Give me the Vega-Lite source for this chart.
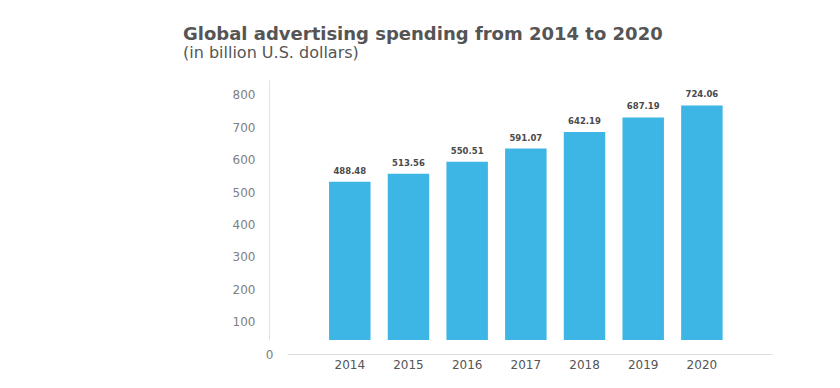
{
  "$schema": "https://vega.github.io/schema/vega-lite/v6.json",
  "width": 485,
  "height": 274,
  "autosize": {"type": "none"},
  "padding": {"left": 287, "top": 80, "right": 68, "bottom": 34},
  "background": "#ffffff",
  "title": {
    "text": "Global advertising spending from 2014 to 2020",
    "subtitle": "(in billion U.S. dollars)",
    "anchor": "start",
    "frame": "group",
    "dx": -104,
    "offset": 19,
    "font": "DejaVu Sans",
    "fontSize": 18,
    "fontWeight": "bold",
    "color": "#555555",
    "subtitleFont": "DejaVu Sans",
    "subtitleFontSize": 16,
    "subtitleColor": "#555555",
    "subtitlePadding": 1
  },
  "config": {"view": {"stroke": null}},
  "data": {
    "values": [
      {"year": "2014", "value": 488.48},
      {"year": "2015", "value": 513.56},
      {"year": "2016", "value": 550.51},
      {"year": "2017", "value": 591.07},
      {"year": "2018", "value": 642.19},
      {"year": "2019", "value": 687.19},
      {"year": "2020", "value": 724.06}
    ]
  },
  "encoding": {
    "x": {
      "field": "year",
      "type": "ordinal",
      "scale": {"paddingInner": 0.293, "paddingOuter": 0.779, "align": 0.46},
      "axis": {
        "title": null,
        "domain": true,
        "domainColor": "#dddddd",
        "domainWidth": 1,
        "ticks": false,
        "labelAngle": 0,
        "labelFont": "DejaVu Sans",
        "labelFontSize": 12,
        "labelColor": "#555555",
        "labelBaseline": "middle",
        "labelPadding": 10
      }
    }
  },
  "layer": [
    {
      "encoding": {
        "y": {
          "field": "value",
          "type": "quantitative",
          "scale": {"domain": [0, 802.7], "range": [260, 0], "nice": false},
          "axis": {
            "orient": "left",
            "offset": 18,
            "title": null,
            "labels": false,
            "ticks": false,
            "grid": false,
            "domain": true,
            "domainColor": "#e2e2e2",
            "domainWidth": 1
          }
        }
      },
      "layer": [
        {"mark": {"type": "bar", "color": "#3db6e6"}},
        {
          "mark": {
            "type": "text",
            "baseline": "middle",
            "dy": -11,
            "font": "DejaVu Sans",
            "fontSize": 8.5,
            "fontWeight": "bold",
            "color": "#4a4a4a"
          },
          "encoding": {"text": {"field": "value", "type": "quantitative", "format": ".2f"}}
        }
      ]
    },
    {
      "mark": {"type": "rule", "color": "#dddddd", "strokeWidth": 1},
      "encoding": {
        "y": {
          "datum": 0,
          "type": "quantitative",
          "scale": {"domain": [0, 846], "nice": false},
          "axis": {
            "orient": "left",
            "offset": 18,
            "title": null,
            "values": [0, 100, 200, 300, 400, 500, 600, 700, 800],
            "domain": false,
            "ticks": false,
            "grid": false,
            "labelFont": "DejaVu Sans",
            "labelFontSize": 12,
            "labelColor": "#808080",
            "labelBaseline": "middle",
            "labelAlign": {"condition": {"test": "datum.value === 0", "value": "center"}, "value": "right"},
            "labelPadding": {"condition": {"test": "datum.value === 0", "value": 0}, "value": 14}
          }
        }
      }
    }
  ],
  "resolve": {"scale": {"y": "independent"}, "axis": {"y": "independent"}}
}
